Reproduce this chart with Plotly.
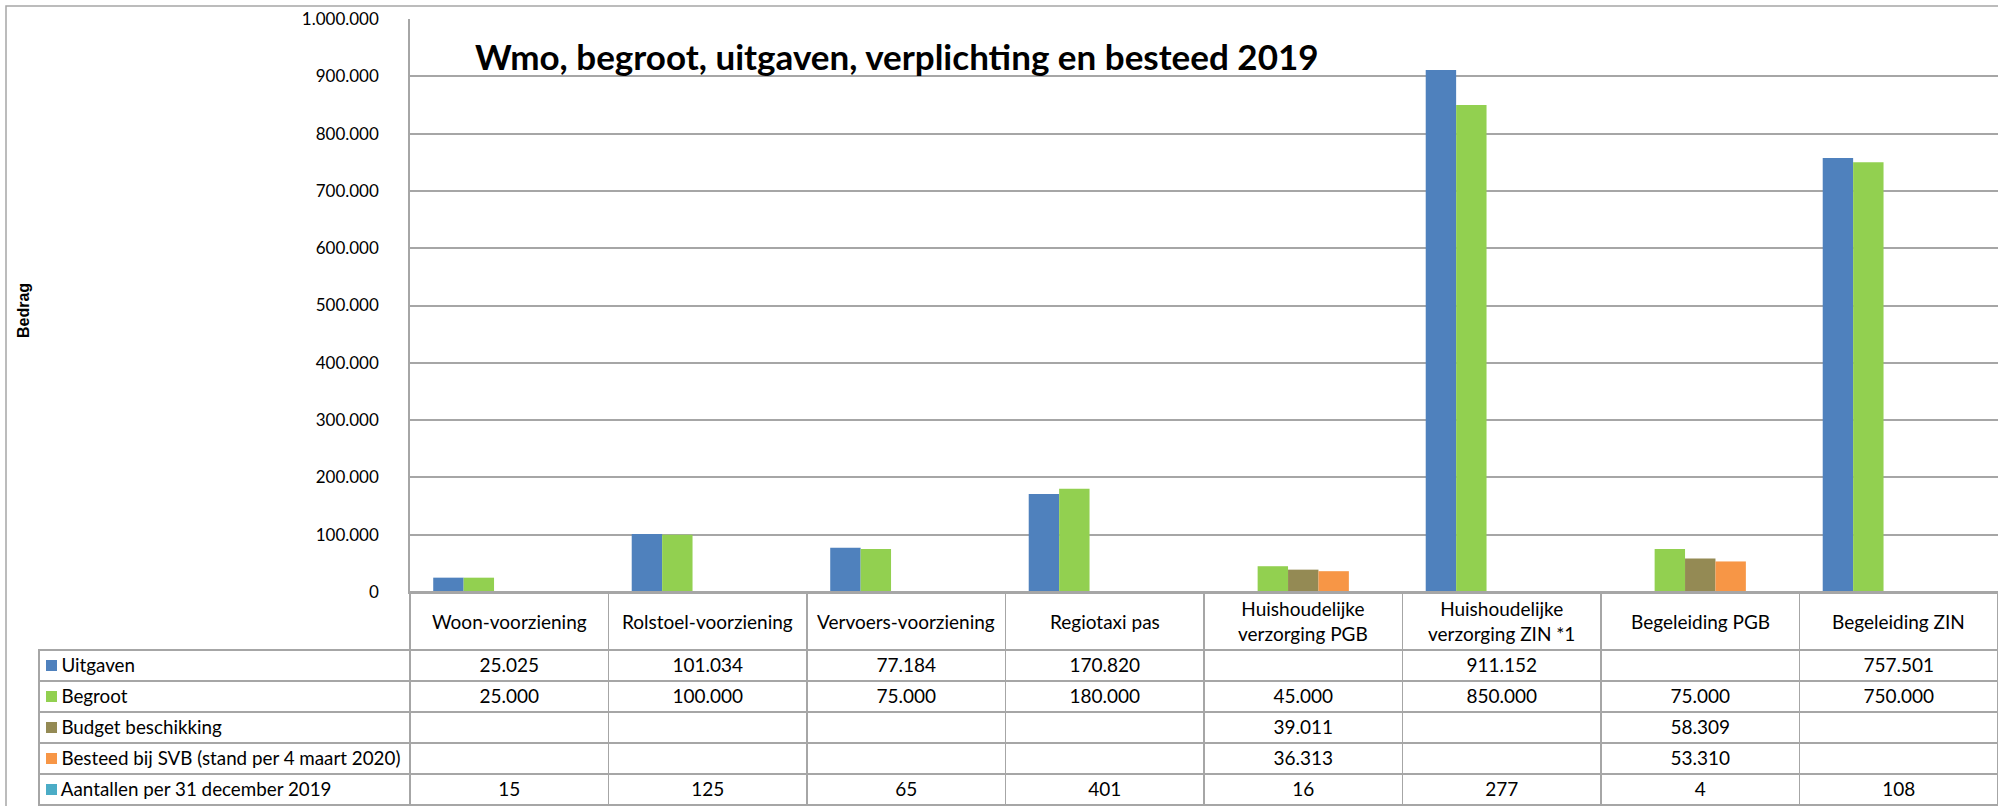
import plotly.graph_objects as go

# ---------------- data ----------------
categories = [
    "Woon-voorziening",
    "Rolstoel-voorziening",
    "Vervoers-voorziening",
    "Regiotaxi pas",
    "Huishoudelijke<br>verzorging PGB",
    "Huishoudelijke<br>verzorging ZIN *1",
    "Begeleiding PGB",
    "Begeleiding ZIN",
]
series_names = [
    "Uitgaven",
    "Begroot",
    "Budget beschikking",
    "Besteed bij SVB (stand per 4 maart 2020)",
    "Aantallen per 31 december 2019",
]
uitgaven = [25025, 101034, 77184, 170820, None, 911152, None, 757501]
begroot = [25000, 100000, 75000, 180000, 45000, 850000, 75000, 750000]
budget_beschikking = [None, None, None, None, 39011, None, 58309, None]
besteed_svb = [None, None, None, None, 36313, None, 53310, None]
aantallen = [15, 125, 65, 401, 16, 277, 4, 108]
y_tick_values = [0, 100000, 200000, 300000, 400000, 500000, 600000, 700000, 800000, 900000, 1000000]

series_values = [uitgaven, begroot, budget_beschikking, besteed_svb, aantallen]
colors = ["#4f81bd", "#92d050", "#948a54", "#f79646", "#4bacc6"]

title_text = "Wmo, begroot, uitgaven, verplichting en besteed 2019"
y_title = "Bedrag"

# ---------------- layout constants ----------------
W, H = 1998, 806
FONT = "Lato, sans-serif"
GRID = "#a6a6a6"
plot_left = 410
table_left = 39
table_h = 214          # px from bottom of page to the category axis
header_h = 58
row_h = 31
n_cat = len(categories)
cat_w = (W - plot_left) / n_cat
TXT = 19
nb = "\u00a0"


def fmt(v):
    if v is None:
        return ""
    return f"{v:,}".replace(",", ".")


fig = go.Figure()
for name, vals, col in zip(series_names, series_values, colors):
    # the counts are tiny on this scale and are not visible in the chart
    fig.add_trace(go.Bar(
        x=categories, y=vals, name=name,
        marker=dict(color=col, line=dict(width=0),
                    opacity=0 if vals is aantallen else 1),
        showlegend=False, hoverinfo="skip",
        xaxis="x", yaxis="y",
    ))

# legend swatches for the data table (hidden helper axes over the first column)
fig.add_trace(go.Scatter(
    x=[12.5] * len(series_names),
    y=[table_h - header_h - row_h * i - row_h / 2 for i in range(len(series_names))],
    mode="markers",
    marker=dict(symbol="square", size=11, color=colors, line=dict(width=0)),
    xaxis="x2", yaxis="y2", showlegend=False, hoverinfo="skip",
))

# data table below the chart
header_vals = [""] * (n_cat + 1)
cell_cols = [[nb * 3 + n.replace(" ", nb) for n in series_names]]
for i in range(n_cat):
    cell_cols.append([fmt(s[i]) for s in series_values])

fig.add_trace(go.Table(
    domain=dict(x=[table_left / W, 1], y=[0, table_h / H]),
    columnwidth=[plot_left - table_left] + [cat_w] * n_cat,
    header=dict(
        values=header_vals,
        height=header_h,
        fill=dict(color="rgba(0,0,0,0)"),
        line=dict(color=["rgba(0,0,0,0)"] + [GRID] * n_cat, width=1.5),
        font=dict(family=FONT, size=TXT, color="black"),
    ),
    cells=dict(
        values=cell_cols,
        height=row_h,
        align=["left"] + ["center"] * n_cat,
        fill=dict(color="rgba(0,0,0,0)"),
        line=dict(color=GRID, width=1.5),
        font=dict(family=FONT, size=[18.8] + [TXT] * n_cat, color="black"),
    ),
))

# category names in the header row of the table, centred on each category
annotations = [dict(
    text=c, x=c, xref="x", y=1 - (H - table_h + header_h / 2) / H, yref="paper",
    xanchor="center", yanchor="middle", showarrow=False, align="center",
    font=dict(family=FONT, size=TXT, color="black"),
) for c in categories]
annotations.append(dict(
    text=f"<b>{y_title}</b>", textangle=-90,
    x=23 / W, y=1 - 311 / H, xref="paper", yref="paper",
    xanchor="center", yanchor="middle", showarrow=False,
    font=dict(family="Liberation Sans, Arial, sans-serif", size=16, color="black"),
))

fig.update_layout(
    width=W, height=H,
    margin=dict(l=0, r=0, t=0, b=0, autoexpand=False),
    paper_bgcolor="white", plot_bgcolor="white",
    barmode="group", bargap=0.234, bargroupgap=0,
    separators=",.",
    font=dict(family=FONT, color="black"),
    title=dict(
        text=f"<b>{title_text}</b>",
        x=475 / W, xanchor="left", xref="paper",
        y=1 - 58 / H, yanchor="middle", yref="paper",
        font=dict(family=FONT, size=35, color="black"),
        automargin=False,
    ),
    xaxis=dict(
        domain=[plot_left / W, 1], automargin=False,
        showticklabels=False, ticks="",
        showgrid=False, showline=True, linecolor=GRID, linewidth=1.5,
        zeroline=False,
    ),
    yaxis=dict(
        domain=[table_h / H, 1 - 19 / H], automargin=False,
        range=[0, 1000000],
        tickvals=y_tick_values,
        tickformat=",d",
        showgrid=True, gridcolor=GRID, gridwidth=1.5,
        showline=True, linecolor=GRID, linewidth=1.5,
        zeroline=False, ticks="outside", ticklen=26, tickcolor="rgba(0,0,0,0)",
        tickfont=dict(family=FONT, size=17, color="black"),
    ),
    xaxis2=dict(domain=[table_left / W, plot_left / W], range=[0, plot_left - table_left],
                visible=False, anchor="y2", fixedrange=True, automargin=False),
    yaxis2=dict(domain=[0, table_h / H], range=[0, table_h],
                visible=False, anchor="x2", fixedrange=True, automargin=False),
    annotations=annotations,
    shapes=[dict(
        type="rect", xref="paper", yref="paper",
        x0=6 / W, x1=1.01, y0=-0.01, y1=1 - 6 / H,
        line=dict(color=GRID, width=1.5), fillcolor="rgba(0,0,0,0)", layer="below",
    )],
)

fig.write_html(
    "out.html",
    config={"displayModeBar": False},
    post_script="document.body.style.margin='0';document.body.style.overflow='hidden';",
)
